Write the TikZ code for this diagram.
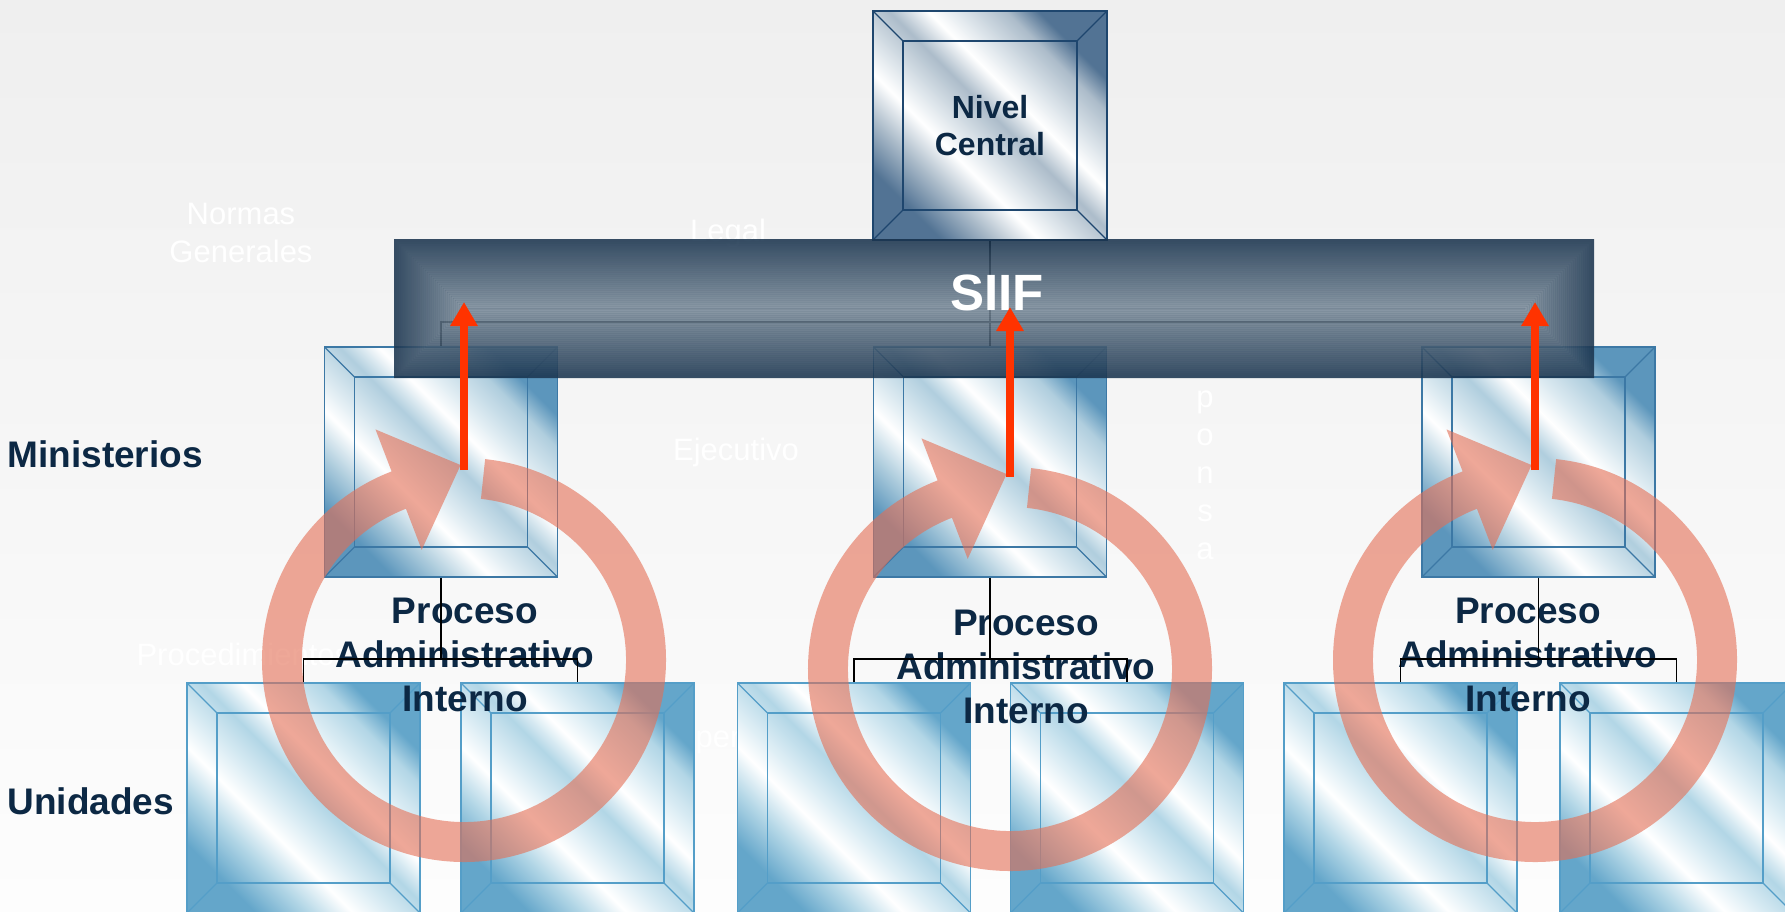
\documentclass[tikz,border=0pt]{standalone}
\usepackage{fontspec}
\setmainfont{Liberation Sans}
\usetikzlibrary{arrows.meta,calc}
\definecolor{bgtop}{RGB}{239,239,239}
\definecolor{bgbot}{RGB}{253,253,253}
\definecolor{navy}{RGB}{12,40,68}
\definecolor{uD}{RGB}{100,166,202}
\definecolor{uM}{RGB}{178,214,230}
\definecolor{uL}{RGB}{222,238,245}
\definecolor{ubord}{RGB}{84,158,200}
\definecolor{mD}{RGB}{92,150,188}
\definecolor{mM}{RGB}{176,206,222}
\definecolor{mL}{RGB}{220,234,241}
\definecolor{mbord}{RGB}{60,120,165}
\definecolor{nD}{RGB}{82,115,148}
\definecolor{nM}{RGB}{172,188,202}
\definecolor{nL}{RGB}{220,228,234}
\definecolor{nbord}{RGB}{30,70,110}
\definecolor{barD}{RGB}{28,54,80}
\definecolor{barL}{RGB}{130,146,160}
\definecolor{ringc}{RGB}{228,110,84}
\definecolor{redarrow}{RGB}{255,51,0}
\pgfdeclarehorizontalshading{metU}{100bp}{color(0bp)=(uD); color(25bp)=(uD); color(33bp)=(uM); color(40bp)=(white); color(45bp)=(uL); color(52bp)=(uM); color(58bp)=(white); color(63bp)=(uL); color(70bp)=(uM); color(75bp)=(uD); color(100bp)=(uD)}
\pgfdeclarehorizontalshading{metM}{100bp}{color(0bp)=(mD); color(25bp)=(mD); color(33bp)=(mM); color(40bp)=(white); color(45bp)=(mL); color(52bp)=(mM); color(58bp)=(white); color(63bp)=(mL); color(70bp)=(mM); color(75bp)=(mD); color(100bp)=(mD)}
\pgfdeclarehorizontalshading{metN}{100bp}{color(0bp)=(nD); color(25bp)=(nD); color(33bp)=(nM); color(40bp)=(white); color(45bp)=(nL); color(52bp)=(nM); color(58bp)=(white); color(63bp)=(nL); color(70bp)=(nM); color(75bp)=(nD); color(100bp)=(nD)}
\newcommand\bevdeco[2]{%
  \shade[shading=#2, shading angle=45] ([shift={(30,30)}]path picture bounding box.north west) rectangle ([shift={(-30,-30)}]path picture bounding box.south east);
  \draw[#1, line width=1.2pt] ([shift={(30,30)}]path picture bounding box.north west) rectangle ([shift={(-30,-30)}]path picture bounding box.south east);
  \draw[#1, line width=1.2pt] (path picture bounding box.north west) -- ++(30,30)
     (path picture bounding box.north east) -- ++(-30,30)
     (path picture bounding box.south west) -- ++(30,-30)
     (path picture bounding box.south east) -- ++(-30,-30);
}
\newcommand\ringarrow[1]{%
  \begin{scope}[shift={#1}, x=1pt, y=1pt]
    \fill[ringc, opacity=0.6] (84:202) arc[start angle=84, end angle=-249, radius=202] -- (111:247) -- (91:195) -- (111:118) -- (111:162) arc[start angle=111, end angle=444, radius=162] -- cycle;
  \end{scope}}
\tikzset{
  bevbox/.style 2 args={draw=#1, line width=1.2pt, shade, shading=#2, shading angle=45, inner sep=0pt, minimum width=233pt, minimum height=230pt, path picture={\bevdeco{#1}{#2}}},
  conn/.style={draw=black, line width=1.6pt},
  grp/.style={font=\bfseries\fontsize{37}{44}\selectfont, text=navy, align=center},
  lvl/.style={font=\bfseries\fontsize{37}{44}\selectfont, text=navy, anchor=west},
  faint/.style={text=white, font=\fontsize{31}{38}\selectfont},
  redarr/.style={draw=redarrow, line width=8pt, -{Triangle[length=24pt, width=26pt]}}
}
\begin{document}
\begin{tikzpicture}[x=1pt, y=-1pt]
\clip (0,0) rectangle (1785,911);
\shade[top color=bgtop, bottom color=bgbot] (0,0) rectangle (1785,911);
% faint background texts
\node[faint, align=center] (fng) at (241,233) {Normas\\Generales};
\node[faint, anchor=base] (flegal) at (728,241) {Legal};
\node[faint, anchor=base] (fejec) at (736,460) {Ejecutivo};
\node[faint, align=center] (fresp) at (1205,475) {p\\o\\n\\s\\a};
\node[faint, anchor=base west] (fproc) at (133,665) {Procedimientos};
\node[faint, anchor=base west] (foper) at (668,747) {Operativo};
% boxes
\node[bevbox={ubord}{metU}] (u11) at (303.5,798) {};
\node[bevbox={ubord}{metU}] (u12) at (577.5,798) {};
\node[bevbox={ubord}{metU}] (u21) at (854,798) {};
\node[bevbox={ubord}{metU}] (u22) at (1127,798) {};
\node[bevbox={ubord}{metU}] (u31) at (1400.5,798) {};
\node[bevbox={ubord}{metU}] (u32) at (1676.5,798) {};
\node[bevbox={mbord}{metM}] (m1) at (441,462) {};
\node[bevbox={mbord}{metM}] (m2) at (990,462) {};
\node[bevbox={mbord}{metM}] (m3) at (1538.5,462) {};
\node[bevbox={nbord}{metN}, minimum height=229pt, minimum width=234pt, font=\bfseries\fontsize{32}{37}\selectfont, text=navy, align=center] (nc) at (990,125.5) {Nivel\\Central};
% rings
\ringarrow{(464,660)}
\ringarrow{(1010,669)}
\ringarrow{(1535,660)}
% group texts
\node[grp] (t1) at (465,655) {Proceso\\Administrativo\\Interno};
\node[grp] (t2) at (1026,667) {Proceso\\Administrativo\\Interno};
\node[grp] (t3) at (1528,655) {Proceso\\Administrativo\\Interno};
\node[lvl] (lmin) at (4,454) {Ministerios};
\node[lvl] (luni) at (4,801) {Unidades};
% connectors
\coordinate (j0) at (990,322);
\draw[conn] (nc.south) -- (j0) -| (m1.north);
\draw[conn] (j0) -| (m3.north);
\draw[conn] (j0) -- (m2.north);
\coordinate (j1) at (441,659);
\draw[conn] (m1.south) -- (j1) -| (u11.north);
\draw[conn] (j1) -| (u12.north);
\coordinate (j2) at (990,659);
\draw[conn] (m2.south) -- (j2) -| (u21.north);
\draw[conn] (j2) -| (u22.north);
\coordinate (j3) at (1538.5,659);
\draw[conn] (m3.south) -- (j3) -| (u31.north);
\draw[conn] (j3) -| (u32.north);
% SIIF bar
\begin{scope}[transparency group, opacity=0.88]
\foreach \i in {0,...,34}{
  \pgfmathtruncatemacro\p{round(100*\i/34)}
  \fill[barL!\p!barD] ({395+2*\i},{240+2*\i}) rectangle ({1593-2*\i},{377-2*\i});
  \draw[barD, opacity=0.4, line width=0.5pt] ({395+2*\i},{240+2*\i}) rectangle ({1593-2*\i},{377-2*\i});
}
\draw[barD, line width=2pt] (395,240) rectangle (1593,377);
\end{scope}
\node[text=white, font=\bfseries\fontsize{51}{60}\selectfont] (siif) at (997,293) {SIIF};
% red arrows
\coordinate (s1) at (464,470); \coordinate (e1) at (464,302);
\coordinate (s2) at (1010,477); \coordinate (e2) at (1010,307);
\coordinate (s3) at (1535,470); \coordinate (e3) at (1535,302);
\draw[redarr] (s1) -- (e1);
\draw[redarr] (s2) -- (e2);
\draw[redarr] (s3) -- (e3);
\end{tikzpicture}
\end{document}
